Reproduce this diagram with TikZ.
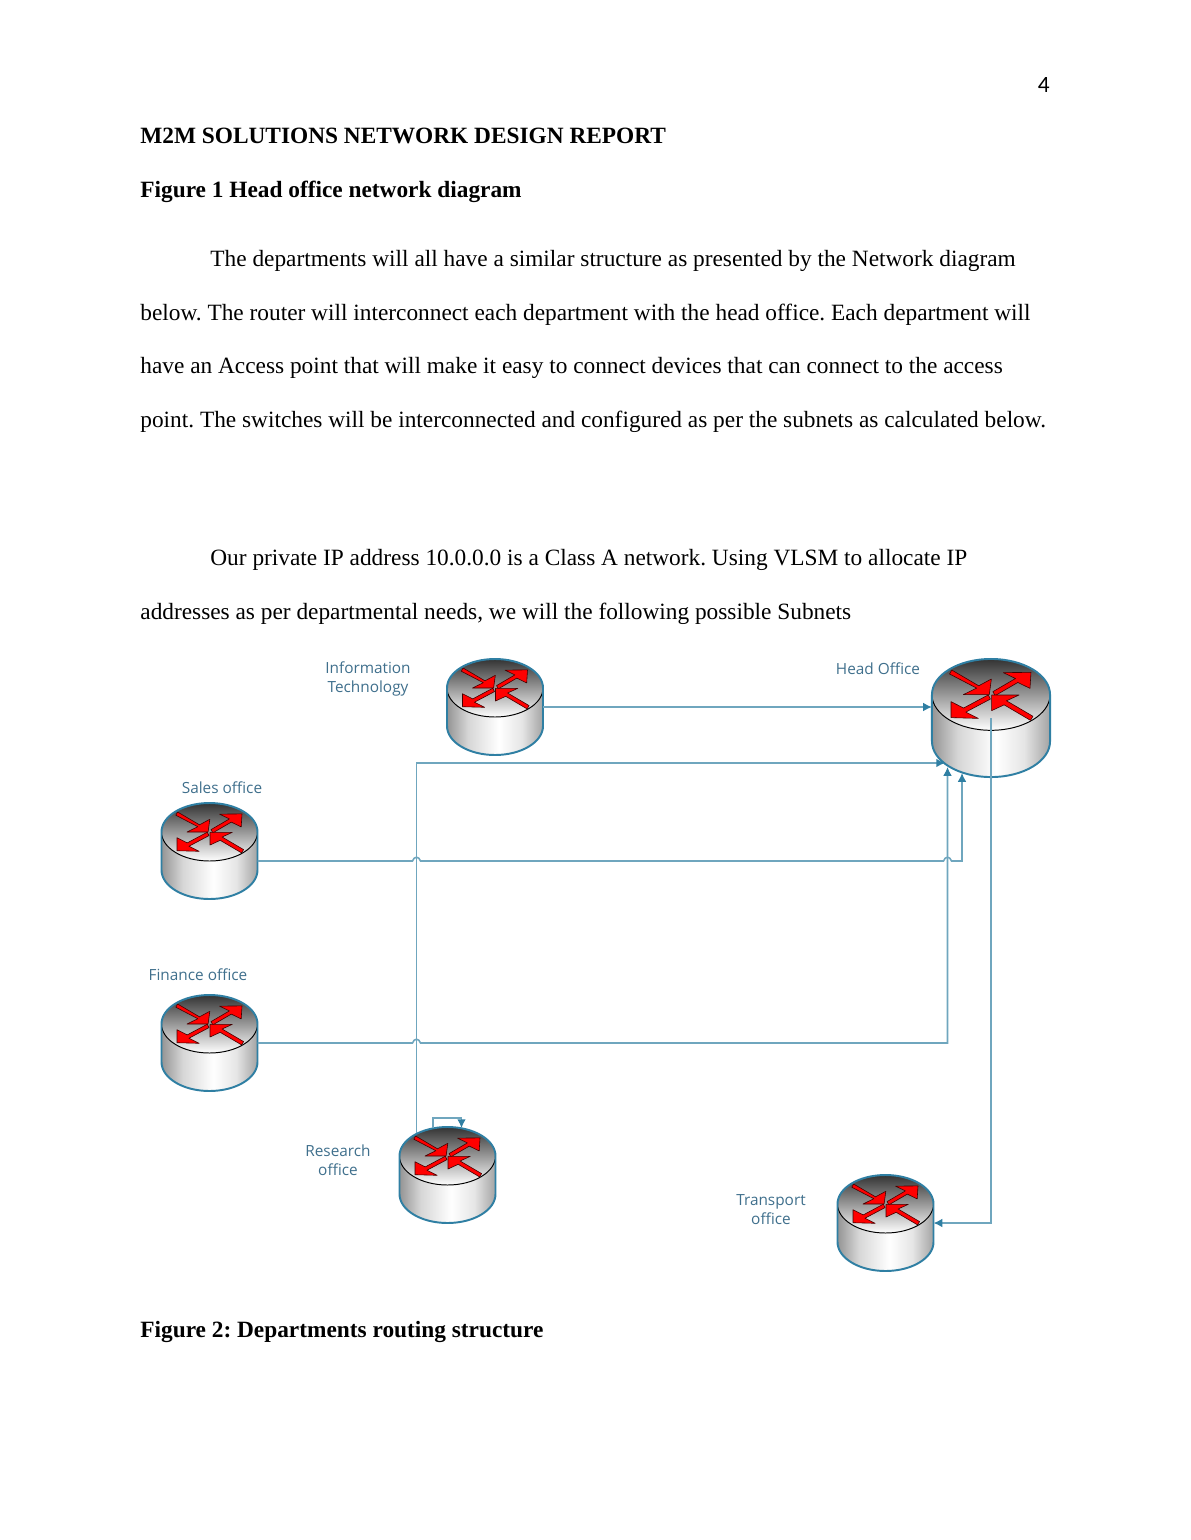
\documentclass[tikz,border=0pt]{standalone}
\usepackage{fontspec}
\setmainfont{Liberation Serif}
\newfontfamily\labelfont{Open Sans}
\newfontfamily\pagefont{Carlito}
\usepackage{xcolor}
\usetikzlibrary{arrows.meta,calc}
\frenchspacing
\definecolor{routeredge}{HTML}{2F7FA3}
\definecolor{linkblue}{HTML}{6FA6BE}
\definecolor{labelblue}{HTML}{3F6F8C}
\pgfdeclarehorizontalshading{routerbody}{100bp}{color(0bp)=(black!42); color(25bp)=(black!42); color(36bp)=(black!16);
    color(52bp)=(white); color(64bp)=(black!10); color(75bp)=(black!36); color(100bp)=(black!36)}
\tikzset{
    routerbox/.style={inner sep=0pt,outer sep=0pt},
    bodytext/.style={anchor=base west,inner sep=0pt,font=\fontsize{12}{14}\selectfont},
    boldtext/.style={bodytext,font=\fontsize{12}{14}\selectfont\bfseries},
    officelabel/.style={inner sep=0pt,align=center,text=labelblue,font=\labelfont\fontsize{7.9}{9.8}\selectfont},
    redarrow/.style={fill=red,draw=black!75!red,line width=0.3pt,line join=round},
    link/.style={draw=linkblue,line width=0.8pt,-{Latex[length=4.5pt,width=4.5pt,color=routeredge]}},
}
% hop of one line over another
\newcommand{\hop}[2]{-- (#1-4,#2) .. controls (#1-2.5,#2-5) and (#1+2.5,#2-5) .. (#1+4,#2)}
% name, x, y, scale
\newcommand{\router}[4]{
    \node[routerbox,minimum width=#4*49.4pt,minimum height=#4*49.4pt] (#1) at (#2,#3) {};
    \begin{scope}[shift={(#2,#3)},scale=#4]
        \shade[shading=routerbody]
            (-48,-19) -- (-48,19) arc (180:0:48 and 29) -- (48,-19) -- cycle;
        \shade[top color=black!80,middle color=black!22,bottom color=white]
            (0,-19) ellipse (48 and 29);
        \draw[black,line width=0.5pt] (-48,-19) arc (180:0:48 and 29);
        \path[redarrow] (-31.9,-39) -- (-10,-26.2) -- (0.3,-31.7) -- (-1.4,-19) -- (-22.5,-19)
            -- (-11.7,-24.3) -- (-33.7,-35.8) -- cycle;
        \path[redarrow] (1.5,-21.4) -- (19.9,-32.1) -- (10,-36.9) -- (32.5,-37.1) -- (31.7,-24.1)
            -- (21.8,-28.9) -- (3.4,-18.2) -- cycle;
        \path[redarrow] (-2.2,-18.8) -- (-22.3,-8.1) -- (-32.5,-13.3) -- (-32.5,-0.3) -- (-10.3,0.3)
            -- (-20.5,-4.8) -- (-0.5,-15.4) -- cycle;
        \path[redarrow] (34.1,-1.4) -- (12.6,-14) -- (22.8,-18.7) -- (0.5,-18.7) -- (0.5,-6)
            -- (10.7,-10.7) -- (32.1,1.9) -- cycle;
        \draw[routeredge,line width=1pt] (-48,-19) arc (180:360:48 and 29) -- (48,19)
            arc (0:180:48 and 29) -- cycle;
    \end{scope}
}

\begin{document}
\begin{tikzpicture}[x=0.5143pt,y=-0.5143pt]
    \useasboundingbox (0,0) rectangle (1190,1540);
    \node[anchor=base east,inner sep=0pt,font=\pagefont\fontsize{12}{14}\selectfont] (pagenum) at (1050,92) {4};
    \node[boldtext] (title) at (140,143) {M2M SOLUTIONS NETWORK DESIGN REPORT};
    \node[boldtext] (figone) at (140,197) {Figure 1 Head office network diagram};
    \node[bodytext] (pa) at (210,266) {The departments will all have a similar structure as presented by the Network diagram};
    \node[bodytext] (pb) at (140,320) {below. The router will interconnect each department with the head office. Each department will};
    \node[bodytext] (pc) at (140,373) {have an Access point that will make it easy to connect devices that can connect to the access};
    \node[bodytext] (pd) at (140,427) {point. The switches will be interconnected and configured as per the subnets as calculated below.};
    \node[bodytext] (pe) at (210,565) {Our private IP address 10.0.0.0 is a Class A network. Using VLSM to allocate IP};
    \node[bodytext] (pf) at (140,619) {addresses as per departmental needs, we will the following possible Subnets};
    \node[boldtext] (figtwo) at (140,1337) {Figure 2: Departments routing structure};

    \router{it}{495}{707}{1}
    \router{head}{991}{718}{1.23}
    \router{sales}{209.5}{851}{1}
    \router{finance}{209.5}{1043}{1}
    \router{research}{447.5}{1175}{1}
    \router{transport}{885.5}{1223}{1}

    \node[officelabel] (itlabel) at (368,679) {Information\\Technology};
    \node[officelabel] (headlabel) at (878,669) {Head Office};
    \node[officelabel] (saleslabel) at (222,788) {Sales office};
    \node[officelabel] (financelabel) at (198,975) {Finance office};
    \node[officelabel] (researchlabel) at (338,1160) {Research\\office};
    \node[officelabel] (transportlabel) at (771,1210) {Transport\\office};

    \coordinate (salesout) at ($(sales.east)+(0,10)$);
    \coordinate (researchout) at ($(research.center)+(-31,-42)$);
    \coordinate (heada) at (945,763);
    \coordinate (headb) at (962,773);
    \coordinate (headc) at (947.5,767);
    \coordinate (loopa) at ($(research.center)+(-14.5,-47)$);
    \coordinate (loopb) at ($(research.center)+(14,-47)$);

    \draw[link] (it.east) -- (it.east -| head.west);
    \draw[link] (researchout) |- (heada);
    \draw[link] (salesout) \hop{416.5}{861} \hop{947.5}{861} -| (headb);
    \draw[link] (finance.east) \hop{416.5}{1043} -| (headc);
    \draw[link] (head.center) |- (transport.east);
    \draw[link] (loopa) -- ++(0,-10) -| (loopb);
\end{tikzpicture}
\end{document}
